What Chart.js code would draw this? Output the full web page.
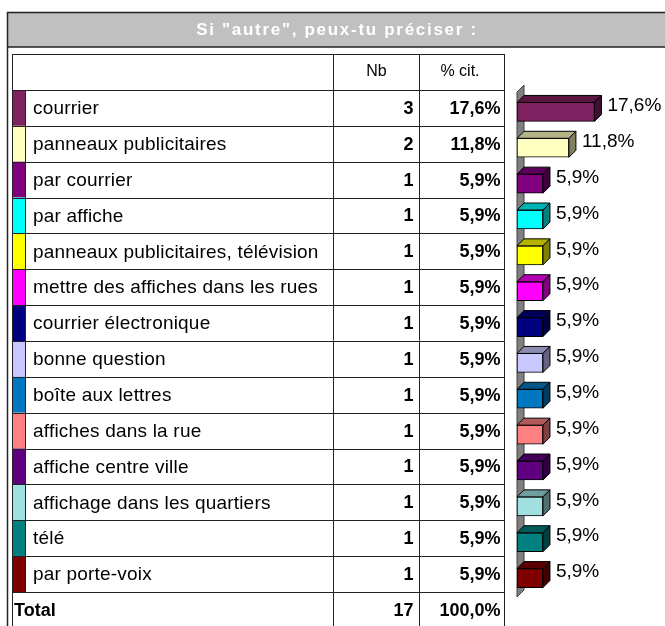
<!DOCTYPE html>
<html>
<head>
<meta charset="utf-8">
<script src="https://cdn.jsdelivr.net/npm/chart.js@4/dist/chart.umd.min.js"></script>
<style>
  html, body { margin: 0; padding: 0; background: #fff; }
  #graphique { display: block; }
</style>
</head>
<body>
<canvas id="graphique" width="665" height="626"></canvas>
<script>
const titre = 'Si "autre", peux-tu préciser :';
const reponses = ['courrier', 'panneaux publicitaires', 'par courrier', 'par affiche',
  'panneaux publicitaires, télévision', 'mettre des affiches dans les rues',
  'courrier électronique', 'bonne question', 'boîte aux lettres', 'affiches dans la rue',
  'affiche centre ville', 'affichage dans les quartiers', 'télé', 'par porte-voix'];
const nb = [3, 2, 1, 1, 1, 1, 1, 1, 1, 1, 1, 1, 1, 1];
const pourcent = [17.6, 11.8, 5.9, 5.9, 5.9, 5.9, 5.9, 5.9, 5.9, 5.9, 5.9, 5.9, 5.9, 5.9];
const totalNb = 17;
const totalPct = 100.0;
const couleurs = ['#7f2060', '#ffffc0', '#800080', '#00ffff', '#ffff00', '#ff00ff', '#000080',
  '#c8c8ff', '#0078c0', '#ff8080', '#600080', '#a0e0e0', '#008080', '#800000'];

const police = "'Liberation Sans', Arial, sans-serif";
const decal = 4;      // rows sit a bit above the bar front faces
const prof = 7;       // 3D depth

function fmt(v) { return v.toFixed(1).replace('.', ',') + '%'; }

function assombrir(hex, f) {
  const n = parseInt(hex.slice(1), 16);
  const r = Math.round(((n >> 16) & 255) * f);
  const g = Math.round(((n >> 8) & 255) * f);
  const b = Math.round((n & 255) * f);
  return 'rgb(' + r + ',' + g + ',' + b + ')';
}

function poly(ctx, pts, fill, stroke) {
  ctx.beginPath();
  ctx.moveTo(pts[0][0], pts[0][1]);
  for (let i = 1; i < pts.length; i++) ctx.lineTo(pts[i][0], pts[i][1]);
  ctx.closePath();
  ctx.fillStyle = fill;
  ctx.fill();
  ctx.strokeStyle = stroke;
  ctx.lineWidth = 1;
  ctx.stroke();
}

function ligne(ctx, x1, y1, x2, y2) {
  ctx.beginPath();
  ctx.moveTo(x1, y1);
  ctx.lineTo(x2, y2);
  ctx.stroke();
}

const tableau = {
  id: 'tableau',
  beforeDraw(chart) {
    const ctx = chart.ctx;
    const y = chart.scales.y;
    const pas = y.getPixelForValue(1) - y.getPixelForValue(0);
    const haut = y.getPixelForValue(0) - pas / 2 - decal;
    const bas = y.getPixelForValue(reponses.length - 1) + pas / 2 - decal;
    const basTotal = bas + pas;
    const colG = 12.5, colS = 25.5, colNb = 333.5, colPct = 419.5, colD = 504.5;

    ctx.save();
    // title band
    ctx.fillStyle = '#c0c0c0';
    ctx.fillRect(7, 12, 665, 35);
    ctx.strokeStyle = '#222';
    ctx.lineWidth = 1.5;
    ligne(ctx, 7, 12.5, 665, 12.5);
    ligne(ctx, 7, 47, 665, 47);
    ligne(ctx, 7.5, 12, 7.5, 640);
    ctx.fillStyle = '#fff';
    ctx.font = 'bold 17px ' + police;
    ctx.letterSpacing = '1.7px';
    ctx.textAlign = 'center';
    ctx.textBaseline = 'middle';
    ctx.fillText(titre, 337, 30);
    ctx.letterSpacing = '0px';

    // swatches
    reponses.forEach((r, i) => {
      const c = y.getPixelForValue(i) - decal;
      ctx.fillStyle = couleurs[i];
      ctx.fillRect(colG, c - pas / 2, colS - colG, pas);
    });

    // grid
    ctx.strokeStyle = '#222';
    ctx.lineWidth = 1;
    ligne(ctx, colG, 54.5, colD, 54.5);
    ligne(ctx, colG, Math.round(haut) + 0.5, colD, Math.round(haut) + 0.5);
    reponses.forEach((r, i) => {
      const yy = Math.round(y.getPixelForValue(i) - decal + pas / 2) + 0.5;
      ligne(ctx, colG, yy, colD, yy);
    });
    ligne(ctx, colG, Math.round(basTotal) + 0.5, colD, Math.round(basTotal) + 0.5);
    ligne(ctx, colG, 54, colG, basTotal + 10);
    ligne(ctx, colS, haut, colS, bas);
    ligne(ctx, colNb, 54, colNb, basTotal + 10);
    ligne(ctx, colPct, 54, colPct, basTotal + 10);
    ligne(ctx, colD, 54, colD, basTotal + 10);

    // header
    ctx.fillStyle = '#000';
    ctx.font = '16px ' + police;
    ctx.textAlign = 'center';
    ctx.fillText('Nb', (colNb + colPct) / 2, 72);
    ctx.fillText('% cit.', (colPct + colD) / 2 - 2, 72);

    // rows
    reponses.forEach((r, i) => {
      const c = y.getPixelForValue(i) - decal + 1;
      ctx.font = '19px ' + police;
      ctx.letterSpacing = '0.2px';
      ctx.textAlign = 'left';
      ctx.fillStyle = '#000';
      ctx.fillText(r, 33, c);
      ctx.letterSpacing = '0px';
      ctx.font = 'bold 18px ' + police;
      ctx.textAlign = 'right';
      ctx.fillText(String(nb[i]), colPct - 6, c);
      ctx.fillText(fmt(pourcent[i]), colD - 4, c);
    });
    const ct = bas + pas / 2 + 1;
    ctx.font = 'bold 18px ' + police;
    ctx.textAlign = 'left';
    ctx.fillText('Total', 14, ct);
    ctx.textAlign = 'right';
    ctx.fillText(String(totalNb), colPct - 6, ct);
    ctx.fillText(fmt(totalPct), colD - 4, ct);
    ctx.restore();
  },
  beforeDatasetsDraw(chart) {
    const ctx = chart.ctx;
    const a = chart.chartArea;
    const x0 = chart.scales.x.getPixelForValue(0);
    ctx.save();
    poly(ctx, [[x0, a.top - 2], [x0 + prof, a.top - 2 - prof], [x0 + prof, a.bottom - prof + 1], [x0, a.bottom + 1]], '#808080', '#404040');
    ctx.restore();
  },
  afterDatasetsDraw(chart) {
    const ctx = chart.ctx;
    const meta = chart.getDatasetMeta(0);
    ctx.save();
    meta.data.forEach((bar, i) => {
      const p = bar.getProps(['x', 'y', 'base', 'height'], true);
      const x0 = p.base, x1 = p.x;
      const t = p.y - p.height / 2, b = p.y + p.height / 2;
      poly(ctx, [[x0, t], [x0 + prof, t - prof], [x1 + prof, t - prof], [x1, t]], assombrir(couleurs[i], 0.7), '#000');
      poly(ctx, [[x1, t], [x1 + prof, t - prof], [x1 + prof, b - prof], [x1, b]], assombrir(couleurs[i], 0.5), '#000');
      ctx.fillStyle = '#000';
      ctx.font = '19px ' + police;
      ctx.textAlign = 'left';
      ctx.textBaseline = 'middle';
      ctx.fillText(fmt(pourcent[i]), x1 + prof + 6, p.y - decal - 2);
    });
    ctx.restore();
  }
};

new Chart(document.getElementById('graphique'), {
  type: 'bar',
  data: {
    labels: reponses,
    datasets: [{
      data: pourcent,
      backgroundColor: couleurs,
      borderColor: '#000',
      borderWidth: 1,
      borderSkipped: false,
      barThickness: 19
    }]
  },
  options: {
    indexAxis: 'y',
    responsive: false,
    animation: false,
    devicePixelRatio: 1,
    layout: { padding: { left: 517, right: 16, top: 94, bottom: 30 } },
    scales: {
      x: { display: false, min: 0, max: 30 },
      y: { display: false, offset: true }
    },
    plugins: { legend: { display: false }, tooltip: { enabled: false } }
  },
  plugins: [tableau]
});
</script>
</body>
</html>
